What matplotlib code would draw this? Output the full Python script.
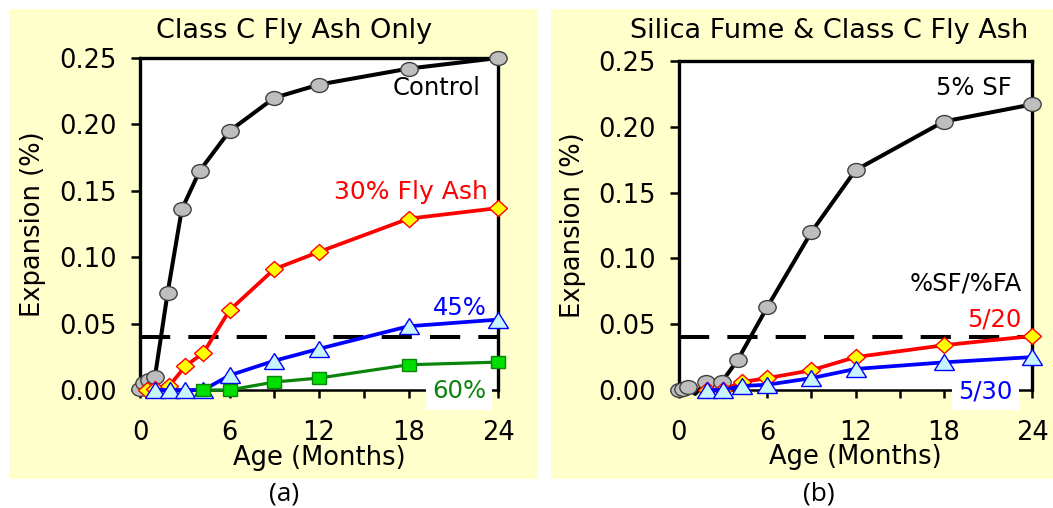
import matplotlib
matplotlib.use("Agg")
import matplotlib.pyplot as plt
from matplotlib.patches import Rectangle
from matplotlib.markers import MarkerStyle
from matplotlib.transforms import Affine2D

# ---------------- data ----------------
# Panel (a): Class C Fly Ash only
a_ctrl_x = [0, 0.3, 0.6, 1.0, 1.85, 2.8, 4, 6, 9, 12, 18, 24]
a_ctrl_y = [0.001, 0.005, 0.0075, 0.0098, 0.073, 0.136, 0.165, 0.195, 0.220, 0.230, 0.242, 0.250]
a_fa30_x = [0.45, 1.0, 1.95, 3.05, 4.25, 6, 9, 12, 18, 24]
a_fa30_y = [0.0, 0.001, 0.003, 0.018, 0.028, 0.060, 0.091, 0.104, 0.129, 0.137]
a_fa45_x = [1.0, 2, 3, 4.25, 6, 9, 12, 18, 24]
a_fa45_y = [0.0, 0.0, 0.0, 0.0, 0.011, 0.022, 0.031, 0.048, 0.053]
a_fa60_x = [4.25, 6, 9, 12, 18, 24]
a_fa60_y = [0.0, 0.0, 0.006, 0.009, 0.019, 0.021]

# Panel (b): Silica Fume & Class C Fly Ash
b_sf5_x = [0, 0.3, 0.6, 1.1, 1.85, 2.9, 4, 6, 9, 12, 18, 24]
b_sf5_y = [0.0, 0.001, 0.002, -0.003, 0.006, 0.006, 0.023, 0.063, 0.120, 0.167, 0.204, 0.217]
b_sf5_marked = [0, 1, 2, 4, 5, 6, 7, 8, 9, 10, 11]
b_520_x = [1.9, 3, 4.25, 6, 9, 12, 18, 24]
b_520_y = [0.0, 0.0, 0.006, 0.009, 0.015, 0.025, 0.034, 0.041]
b_530_x = [1.9, 3, 4.25, 6, 9, 12, 18, 24]
b_530_y = [0.0, 0.0, 0.003, 0.004, 0.009, 0.016, 0.021, 0.025]

limit_value = 0.04
x_major = [0, 6, 12, 18, 24]
x_all_ticks = [0, 3, 6, 9, 12, 15, 18, 21, 24]
y_ticks = [0.00, 0.05, 0.10, 0.15, 0.20, 0.25]

titles = ["Class C Fly Ash Only", "Silica Fume & Class C Fly Ash"]
xlabel = "Age (Months)"
ylabel = "Expansion (%)"

# ---------------- figure ----------------
W, H = 1053, 508
fig = plt.figure(figsize=(W / 100, H / 100), dpi=100)
fig.patch.set_facecolor("white")
plt.rcParams["font.family"] = ["DejaVu Sans"]

panel_bg = "#FFFFCC"
for (x0, x1) in [(9, 537), (551, 1053)]:
    fig.patches.append(Rectangle((x0 / W, 29 / H), (x1 - x0) / W, 470 / H,
                                 transform=fig.transFigure, facecolor=panel_bg,
                                 edgecolor="none", zorder=-5))

ax_a = fig.add_axes([140 / W, (H - 390) / H, 358 / W, 332 / H])
ax_b = fig.add_axes([679 / W, (H - 390) / H, 353 / W, 329 / H])

TICK_FS = 18.5
LBL_FS = 18.5
ANN_FS = 17.5

def style(ax):
    ax.set_facecolor("white")
    ax.set_xlim(0, 24)
    ax.set_ylim(0, 0.25)
    ax.set_xticks(x_all_ticks)
    ax.set_xticklabels([str(t) if t in x_major else "" for t in x_all_ticks])
    ax.set_yticks(y_ticks)
    ax.set_yticklabels([f"{t:.2f}" for t in y_ticks])
    ax.tick_params(axis="x", direction="out", length=5.5, width=1.8,
                   pad=16, labelsize=TICK_FS, top=False)
    ax.tick_params(axis="y", direction="out", length=6.5, width=1.8,
                   pad=10, labelsize=TICK_FS, right=False)
    for s in ["left", "right", "top"]:
        ax.spines[s].set_linewidth(2.4)
    ax.spines["bottom"].set_linewidth(1.8)
    ax.axhline(limit_value, color="black", lw=2.9, dashes=(7.5, 4.5), zorder=1.5)
    ax.set_xlabel(xlabel, fontsize=LBL_FS, va="center")
    ax.xaxis.set_label_coords(0.5, -0.205)
    ax.set_ylabel(ylabel, fontsize=LBL_FS, va="center")
    ax.yaxis.set_label_coords(-0.30, 0.5)

style(ax_a)
style(ax_b)

def stretched(m, sx):
    return MarkerStyle(m, transform=Affine2D().scale(sx, 1.0))

circle_kw = dict(color="black", lw=2.9, marker=stretched("o", 1.25), ms=10, mfc="#BEBEBE",
                 mec="#404040", mew=1.0, clip_on=False)
diamond_kw = dict(color="#FF0000", lw=2.7, marker=stretched("D", 1.12), ms=7.8, mfc="#FFFF00",
                  mec="#FF0000", mew=1.0, clip_on=False)
tri_kw = dict(color="#0000FF", lw=2.7, marker=stretched("^", 1.22), ms=12, mfc="#C8F4FF",
              mec="#0000FF", mew=1.0, clip_on=False)
sq_kw = dict(color="#0A840A", lw=2.3, marker=stretched("s", 1.1), ms=8.8, mfc="#00E000",
             mec="#0A840A", mew=1.0, clip_on=False)

# panel (a)
ax_a.plot(a_ctrl_x, a_ctrl_y, zorder=3, **circle_kw)
ax_a.plot(a_fa30_x, a_fa30_y, zorder=4, **diamond_kw)
ax_a.plot(a_fa45_x, a_fa45_y, zorder=5, **tri_kw)
ax_a.plot(a_fa60_x, a_fa60_y, zorder=6, **sq_kw)

ax_a.text(22.8, 0.2274, "Control", color="black", fontsize=ANN_FS, ha="right", va="center")
ax_a.text(23.3, 0.149, "30% Fly Ash", color="#FF0000", fontsize=ANN_FS + 0.5, ha="right", va="center")
ax_a.text(23.25, 0.0617, "45%", color="#0000FF", fontsize=ANN_FS, ha="right", va="center")
ax_a.text(23.2, -0.001, "60%", color="#0A840A", fontsize=ANN_FS, ha="right", va="center",
          zorder=10, clip_on=False,
          bbox=dict(facecolor="white", edgecolor="none", pad=4.5))

# panel (b)
ax_b.plot(b_sf5_x, b_sf5_y, zorder=3, markevery=b_sf5_marked, **circle_kw)
ax_b.plot(b_520_x, b_520_y, zorder=4, **diamond_kw)
ax_b.plot(b_530_x, b_530_y, zorder=5, **tri_kw)

ax_b.text(22.6, 0.2295, "5% SF", color="black", fontsize=ANN_FS, ha="right", va="center")
ax_b.text(23.3, 0.0813, "%SF/%FA", color="black", fontsize=ANN_FS, ha="right", va="center")
ax_b.text(23.3, 0.0532, "5/20", color="#FF0000", fontsize=ANN_FS, ha="right", va="center")
ax_b.text(22.7, -0.001, "5/30", color="#0000FF", fontsize=ANN_FS, ha="right", va="center",
          zorder=10, clip_on=False,
          bbox=dict(facecolor="white", edgecolor="none", pad=4.5))

# titles and panel letters
fig.text(294.5 / W, 1 - 31 / H, titles[0], fontsize=19.5, ha="center", va="center")
fig.text(829.5 / W, 1 - 31 / H, titles[1], fontsize=19.5, ha="center", va="center")
fig.text(284 / W, 1 - 494 / H, "(a)", fontsize=19, ha="center", va="center",
         family=["Open Sans", "DejaVu Sans"])
fig.text(819 / W, 1 - 494 / H, "(b)", fontsize=19, ha="center", va="center",
         family=["Open Sans", "DejaVu Sans"])

fig.savefig("out.png", dpi=100, facecolor=fig.get_facecolor())
